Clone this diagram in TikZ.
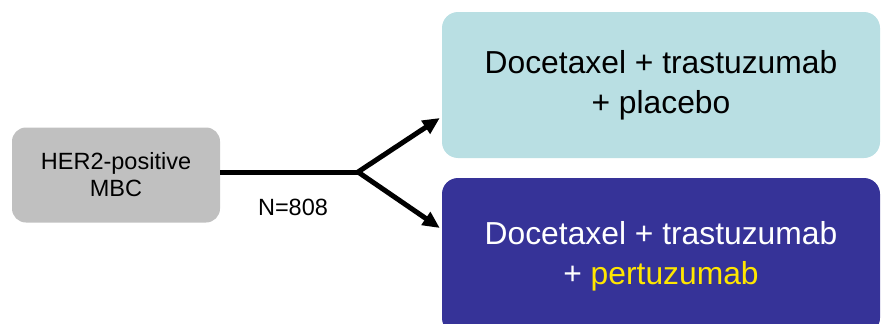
\documentclass[tikz,border=0pt]{standalone}
\usepackage{fontspec}
\setmainfont{Liberation Sans}
\usetikzlibrary{arrows.meta}
\definecolor{mbcgray}{HTML}{C0C0C0}
\definecolor{armteal}{HTML}{B9DFE3}
\definecolor{armblue}{HTML}{363398}
\definecolor{pertyellow}{HTML}{FFE600}
\begin{document}
\begin{tikzpicture}[x=1pt,y=-1pt,
    armbox/.style={rounded corners=16pt, align=center, inner sep=0pt,
      minimum width=438pt, font=\fontsize{31.8}{40}\selectfont},
    stroke/.style={line width=5pt},
    branch/.style={stroke, -{Triangle[length=17pt,width=15pt]}}]
  \useasboundingbox (0,0) rectangle (881,324);
  % boxes
  \node[fill=mbcgray, rounded corners=14pt, align=center, inner sep=0pt,
    minimum width=208pt, minimum height=95pt,
    font=\fontsize{23.5}{27}\selectfont] (mbc) at (116,175) {HER2-positive\\MBC};
  \node[armbox, fill=armteal, minimum height=146pt] (placebo) at (661,85)
    {Docetaxel + trastuzumab\\+ placebo};
  \node[armbox, fill=armblue, text=white, minimum height=156pt] (pertuzumab) at (661,256)
    {Docetaxel + trastuzumab\\+ \textcolor{pertyellow}{pertuzumab}};
  % connectors
  \coordinate (split) at (358,172);
  \draw[stroke] (mbc.east |- split) -- (split);
  \draw[branch] (split) -- ([xshift=-2pt,yshift=-33pt]placebo.west);
  \draw[branch] (split) -- ([xshift=-2pt,yshift=28pt]pertuzumab.west);
  \node[font=\fontsize{23.5}{27}\selectfont] (n) at (293,207) {N=808};
\end{tikzpicture}
\end{document}
